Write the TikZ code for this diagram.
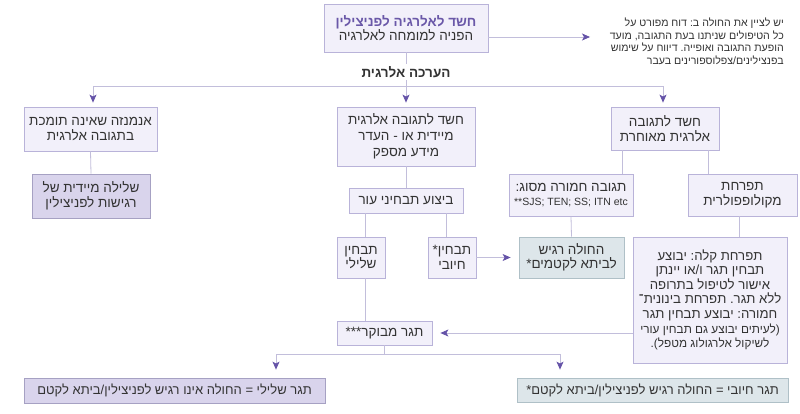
\documentclass[tikz,border=0pt]{standalone}
\usepackage{fontspec}
\setmainfont{Liberation Sans}
\newfontfamily\heb[Script=Hebrew]{Liberation Sans}
\TeXXeTstate=1
\frenchspacing
\usetikzlibrary{arrows.meta}
\newcommand{\R}[1]{\beginR #1\endR}
\definecolor{boxc}{HTML}{B9B3D9}
\definecolor{fillc}{HTML}{F2F0FA}
\definecolor{fillm}{HTML}{D9D4EC}
\definecolor{fillg}{HTML}{DDE6EA}
\definecolor{boxg}{HTML}{AFC0C7}
\definecolor{linec}{HTML}{C2BEDB}
\definecolor{arrc}{HTML}{6553A8}
\definecolor{titc}{HTML}{6A58A8}
\definecolor{textc}{HTML}{333333}
\tikzset{
  box/.style={draw=boxc, fill=fillc, line width=0.8pt, inner sep=2pt, align=center,
    text=textc, font=\heb\frenchspacing\fontsize{13.5}{14.5}\selectfont},
  midbox/.style={box, fill=fillm, draw=boxc!90!black},
  grbox/.style={box, fill=fillg, draw=boxg},
  conn/.style={draw=linec, line width=0.8pt},
  arr/.style={conn, -{Stealth[length=8pt,width=7pt,inset=2pt,color=arrc]}, shorten >=4pt},
  arrl/.style={arr, shorten >=8pt},
}
\begin{document}
\begin{tikzpicture}[x=1pt,y=-1pt]
\useasboundingbox[fill=white] (0,0) rectangle (800,414);

% nodes
\node[box, minimum width=164, minimum height=48, font=\heb\fontsize{13.5}{14}\selectfont] (top) at (406,28)
  {{\color{titc}\bfseries\R{חשד לאלרגיה לפניצילין}}\\ \R{הפניה למומחה לאלרגיה}};
\node[anchor=north east, align=right, text=textc, inner sep=0pt,
  font=\heb\frenchspacing\fontsize{10.6}{12.5}\selectfont] (note) at (784,18)
  {\R{יש לציין את החולה ב: דוח מפורט על}\\
   \R{כל הטיפולים שניתנו בעת התגובה, מועד}\\
   \R{הופעת התגובה ואופייה. דיווח על שימוש}\\
   \R{בפנצילינים/צפלוספורינים בעבר}};
\node[fill=white, inner sep=2pt, text=textc, font=\heb\bfseries\fontsize{13.5}{14}\selectfont] (eval) at (406,72)
  {\R{הערכה אלרגית}};
\coordinate (hub) at (406,86);
\coordinate (na) at (592,37);

\node[box, minimum width=133, minimum height=44] (A) at (90.5,129)
  {\R{אנמנזה שאינה תומכת}\\ \R{בתגובה אלרגית}};
\node[midbox, minimum width=118, minimum height=44] (A2) at (91,196)
  {\R{שלילה מיידית של}\\ \R{רגישות לפניצילין}};

\node[box, minimum width=138, minimum height=59, font=\heb\fontsize{13.5}{16}\selectfont] (B) at (406,136.5)
  {\R{חשד לתגובה אלרגית}\\ \R{מיידית או - העדר}\\ \R{מידע מספק}};
\node[box, minimum width=114, minimum height=25] (B2) at (406,200.5)
  {\R{ביצוע תבחיני עור}};
\node[box, minimum width=48, minimum height=41] (neg) at (361,257.5)
  {\R{תבחין}\\ \R{שלילי}};
\node[box, minimum width=48, minimum height=41] (pos) at (452,257.5)
  {\R{תבחין*}\\ \R{חיובי}};
\node[grbox, minimum width=105, minimum height=41] (gr) at (571.5,257.5)
  {\R{החולה רגיש}\\ \R{לביתא לקטמים*}};

\node[box, minimum width=108, minimum height=43] (C) at (665,128.5)
  {\R{חשד לתגובה}\\ \R{אלרגית מאוחרת}};
\node[box, minimum width=124, minimum height=42] (C1) at (571,195)
  {\R{תגובה חמורה מסוג:}\\ {\fontsize{10.5}{15}\selectfont **SJS; TEN; SS; ITN etc}};
\node[box, minimum width=109, minimum height=42] (C2) at (742.5,195)
  {\R{תפרחת}\\ \R{מקולופפולרית}};
\node[box, minimum width=154, minimum height=126, font=\heb\frenchspacing\fontsize{13.2}{14.4}\selectfont] (rash) at (710,300)
  {\R{תפרחת קלה: יבוצע}\\ \R{תבחין תגר ו/או יינתן}\\ \R{אישור לטיפול בתרופה}\\
   \R{ללא תגר. תפרחת בינונית־}\\ \R{חמורה: יבוצע תבחין תגר}\\[1pt]
   {\fontsize{11.8}{14}\selectfont\R{(לעיתים יבוצע גם תבחין עורי}}\\
   {\fontsize{11.8}{14}\selectfont\R{לשיקול אלרגולוג מטפל).}}};

\node[box, minimum width=95, minimum height=24] (ctrl) at (384.5,333)
  {\R{תגר מבוקר***}};
\coordinate (la) at (276,354);
\coordinate (ra) at (560,354);
\node[midbox, minimum width=301, minimum height=25, font=\heb\fontsize{13}{14}\selectfont] (BL) at (174.5,390.5)
  {\R{תגר שלילי = החולה אינו רגיש לפניצילין/ביתא לקטם}};
\node[grbox, minimum width=271, minimum height=24, font=\heb\fontsize{13}{14}\selectfont] (BR) at (652.5,390)
  {\R{תגר חיובי = החולה רגיש לפניצילין/ביתא לקטם*}};

% connectors
\draw[conn] (top.south) -- (eval.north);
\draw[conn] (eval.south) -- (hub);
\draw[arr] (hub) -| (A.north -| 93,0);
\draw[arr] (hub) -- (B.north);
\draw[arr] (hub) -| (C.north -| 663,0);
\draw[arr, shorten >=2pt] (top.east |- na) -- (na);
\draw[conn] (A.south) -- (A2.north);
\draw[conn] (B.south) -- (B2.north);
\draw[conn] (B2.south -| 365,0) -- (neg.north -| 365,0);
\draw[conn] (B2.south -| 446,0) -- (pos.north -| 446,0);
\draw[arrl] (pos.east) -- (gr.west);
\draw[conn] (neg.south -| 365,0) -- (ctrl.north -| 365,0);
\draw[conn] ([xshift=-43]C.south) -- ([xshift=-43]C.south |- C1.north);
\draw[conn] ([xshift=43]C.south) -- ([xshift=43]C.south |- C2.north);
\draw[conn] (C1.south) -- (gr.north);
\draw[conn] (C2.south -| 739,0) -- (rash.north -| 739,0);
\draw[arrl] (rash.west |- ctrl.east) -- (ctrl.east);
\draw[conn] (ctrl.south) -- (ctrl.south |- la);
\draw[arrl] (ctrl.south |- la) -- (la) -- (la |- BL.north);
\draw[arrl] (ctrl.south |- ra) -- (ra) -- (ra |- BR.north);
\end{tikzpicture}
\end{document}
